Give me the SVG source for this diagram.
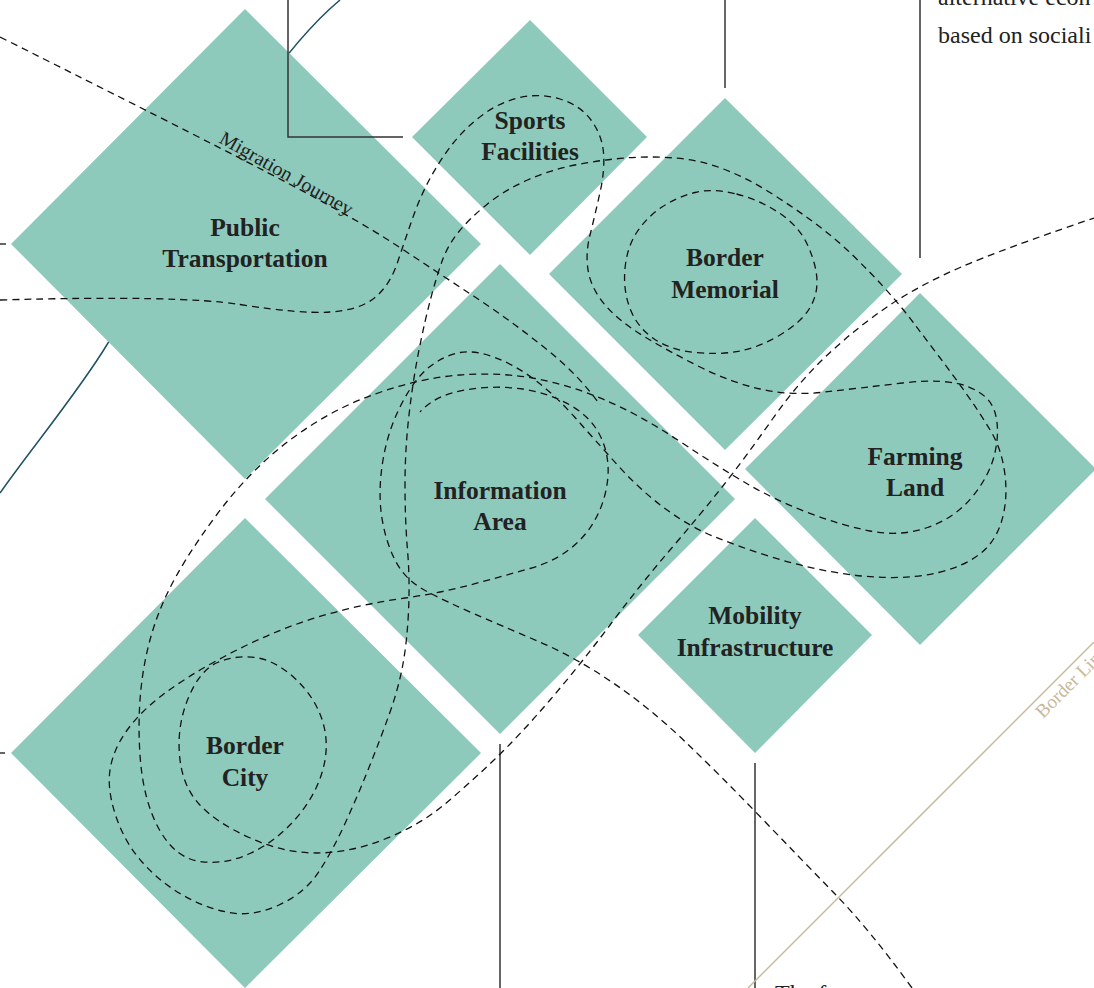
<svg xmlns="http://www.w3.org/2000/svg" width="1094" height="988" viewBox="0 0 1094 988">
<style>
.node{fill:#8ecabb}
.lbl{font-family:"Liberation Serif","DejaVu Serif",serif;font-weight:bold;font-size:25.5px;fill:#222;text-anchor:middle}
.body{font-family:"Liberation Serif","DejaVu Serif",serif;font-size:24px;fill:#222}
.dash{fill:none;stroke:#111;stroke-width:1.3;stroke-dasharray:7 5}
.rule{fill:none;stroke:#333;stroke-width:1.5}
</style>
<rect width="1094" height="988" fill="#fff"/>
<path d="M340,0 C250,75 160,260 108,343 C80,390 30,450 0,493" fill="none" stroke="#1f5263" stroke-width="1.5"/>
<g id="public-transportation"><polygon class="node" points="245,9 481,244 245,479 11,244"/><text class="lbl" x="245" y="236">Public</text><text class="lbl" x="245" y="267">Transportation</text></g>
<g id="sports-facilities"><polygon class="node" points="530,20 647,137 530,255 412,137"/><text class="lbl" x="530" y="129">Sports</text><text class="lbl" x="530" y="160">Facilities</text></g>
<g id="border-memorial"><polygon class="node" points="725,98 902,274 725,450 549,274"/><text class="lbl" x="725" y="266">Border</text><text class="lbl" x="725" y="298">Memorial</text></g>
<g id="information-area"><polygon class="node" points="500,264 735,499 500,734 265,499"/><text class="lbl" x="500" y="499">Information</text><text class="lbl" x="500" y="530">Area</text></g>
<g id="farming-land"><polygon class="node" points="920,293 1096,469 920,645 745,469"/><text class="lbl" x="915" y="465">Farming</text><text class="lbl" x="915" y="496">Land</text></g>
<g id="mobility-infrastructure"><polygon class="node" points="755,518 872,635 755,753 638,635"/><text class="lbl" x="755" y="624">Mobility</text><text class="lbl" x="755" y="656">Infrastructure</text></g>
<g id="border-city"><polygon class="node" points="245,518 481,753 245,988 11,753"/><text class="lbl" x="245" y="754">Border</text><text class="lbl" x="245" y="786">City</text></g>
<g id="connectors">
<path class="rule" d="M288,0 V137 H403"/>
<path class="rule" d="M725,0 V88"/>
<path class="rule" d="M920,0 V258"/>
<path class="rule" d="M500,744 V988"/>
<path class="rule" d="M755,763 V988"/>
<path class="rule" d="M0,244 H6 M0,753 H5"/>
<path d="M748,988 L1094,642" fill="none" stroke="#c8b999" stroke-width="1.5"/>
<path class="dash" d="M0,37 Q180,127 267.5,172.5 Q355,218 396,245 Q437,272 473.5,296 Q510,320 545,348 Q580,376 600,405"/>
<path class="dash" d="M0,300 Q180,295 240,304.5 Q300,314 330,312 Q360,310 375,297.5 Q390,285 397.5,262.5 Q405,240 412.5,218.5 Q420,197 430,178.5 Q440,160 452.5,144 Q465,128 482.5,115 Q500,102 520,97.5 Q540,93 560,99 Q580,105 591,120 Q602,135 603.5,152.5 Q605,170 600,192.5 Q595,215 590,235 Q585,255 588.5,272.5 Q592,290 606,306 Q620,322 645,337 Q670,352 700,367 Q730,382 760,389 Q790,396 825,392 Q860,388 902.5,383 Q945,378 967.5,386.5 Q990,395 995,412.5 Q1000,430 995,452.5 Q990,475 972.5,496.5 Q955,518 927.5,527.5 Q900,537 870,531 Q840,525 807.5,512.5 Q775,500 747.5,484 Q720,468 680,441.5 Q640,415 605,400 Q570,385 535,378.5 Q500,372 460,375 Q420,378 375,394 Q330,410 290,440 Q250,470 216.5,515 Q183,560 166.5,595 Q150,630 143.5,670 Q137,710 140,755 Q143,800 159,829 Q175,858 200,861.5 Q225,865 250,853.5 Q275,842 295,819.5 Q315,797 322.5,771 Q330,745 322.5,721 Q315,697 295,678.5 Q275,660 255,657.5 Q235,655 217.5,662.5 Q200,670 188.5,697.5 Q177,725 179.5,755 Q182,785 198.5,803.5 Q215,822 249,837.5 Q283,853 316.5,853 Q350,853 385,839 Q420,825 445,804 Q470,783 495,759 Q520,735 550,700 Q580,665 610,625 Q640,585 670,550 Q700,515 722.5,486.5 Q745,458 772.5,419 Q800,380 830,352.5 Q860,325 890,305 Q920,285 960,267.5 Q1000,250 1094,218"/>
<path class="dash" d="M912,988 Q870,930 835,894 Q800,858 760,816.5 Q720,775 685,741.5 Q650,708 612.5,682.5 Q575,657 537.5,641 Q500,625 473.5,613.5 Q447,602 426,591 Q405,580 395,560 Q385,540 381.5,515 Q378,490 383,460 Q388,430 401.5,404 Q415,378 430,366.5 Q445,355 460,352.5 Q475,350 495,357.5 Q515,365 535,380 Q555,395 575,417.5 Q595,440 617.5,465 Q640,490 665,508.5 Q690,527 715,537 Q740,547 770,556.5 Q800,566 830,571.5 Q860,577 887.5,577.5 Q915,578 938.5,572.5 Q962,567 978.5,555 Q995,543 1001.5,521.5 Q1008,500 1005,475 Q1002,450 991,431.5 Q980,413 966.5,394 Q953,375 939,356.5 Q925,338 912.5,321.5 Q900,305 885,288.5 Q870,272 852.5,255 Q835,238 814,222.5 Q793,207 770,192.5 Q747,178 723.5,169 Q700,160 675,158 Q650,156 625,158 Q600,160 575,165 Q550,170 527.5,180 Q505,190 487.5,204 Q470,218 459,231.5 Q448,245 442.5,260 Q437,275 431,297.5 Q425,320 419,350 Q413,380 409,415 Q405,450 405,485 Q405,520 407.5,550 Q410,580 408.5,611.5 Q407,643 402.5,666.5 Q398,690 389,715 Q380,740 369,767.5 Q358,795 345.5,822.5 Q333,850 319,871.5 Q305,893 279,905 Q253,917 229,912.5 Q205,908 182.5,895 Q160,882 142.5,862.5 Q125,843 116,816.5 Q107,790 110,770 Q113,750 126.5,731 Q140,712 162.5,695 Q185,678 215,661.5 Q245,645 275,632.5 Q305,620 337.5,611.5 Q370,603 405,598 Q440,593 470,585 Q500,577 530,568.5 Q560,560 579,541 Q598,522 605,494.5 Q612,467 603.5,443.5 Q595,420 572.5,406.5 Q550,393 522.5,389 Q495,385 465,390 Q435,395 420,412"/>
<path class="dash" d="M736.5,194 Q760,200 780,213.5 Q800,227 808.5,247 Q817,267 817,282 Q817,297 808.5,310 Q800,323 780,335 Q760,347 740,351 Q720,355 695,352.5 Q670,350 653.5,338.5 Q637,327 630,308.5 Q623,290 625,268.5 Q627,247 637,232 Q647,217 662,207 Q677,197 695,192.5 Q713,188 736.5,194 Z"/>
</g>
<text font-family="Liberation Serif, DejaVu Serif, serif" font-size="19.5" fill="#222" textLength="150" lengthAdjust="spacingAndGlyphs" transform="translate(218,142) rotate(29.5)">Migration Journey</text>
<text font-family="Liberation Serif, DejaVu Serif, serif" font-size="19" fill="#c8b999" transform="translate(1043,719) rotate(-45)">Border Line</text>
<text class="body" x="938" y="5">alternative econ</text>
<text class="body" x="938" y="43">based on sociali</text>
<text class="body" x="775" y="1001">The fo</text>
</svg>
